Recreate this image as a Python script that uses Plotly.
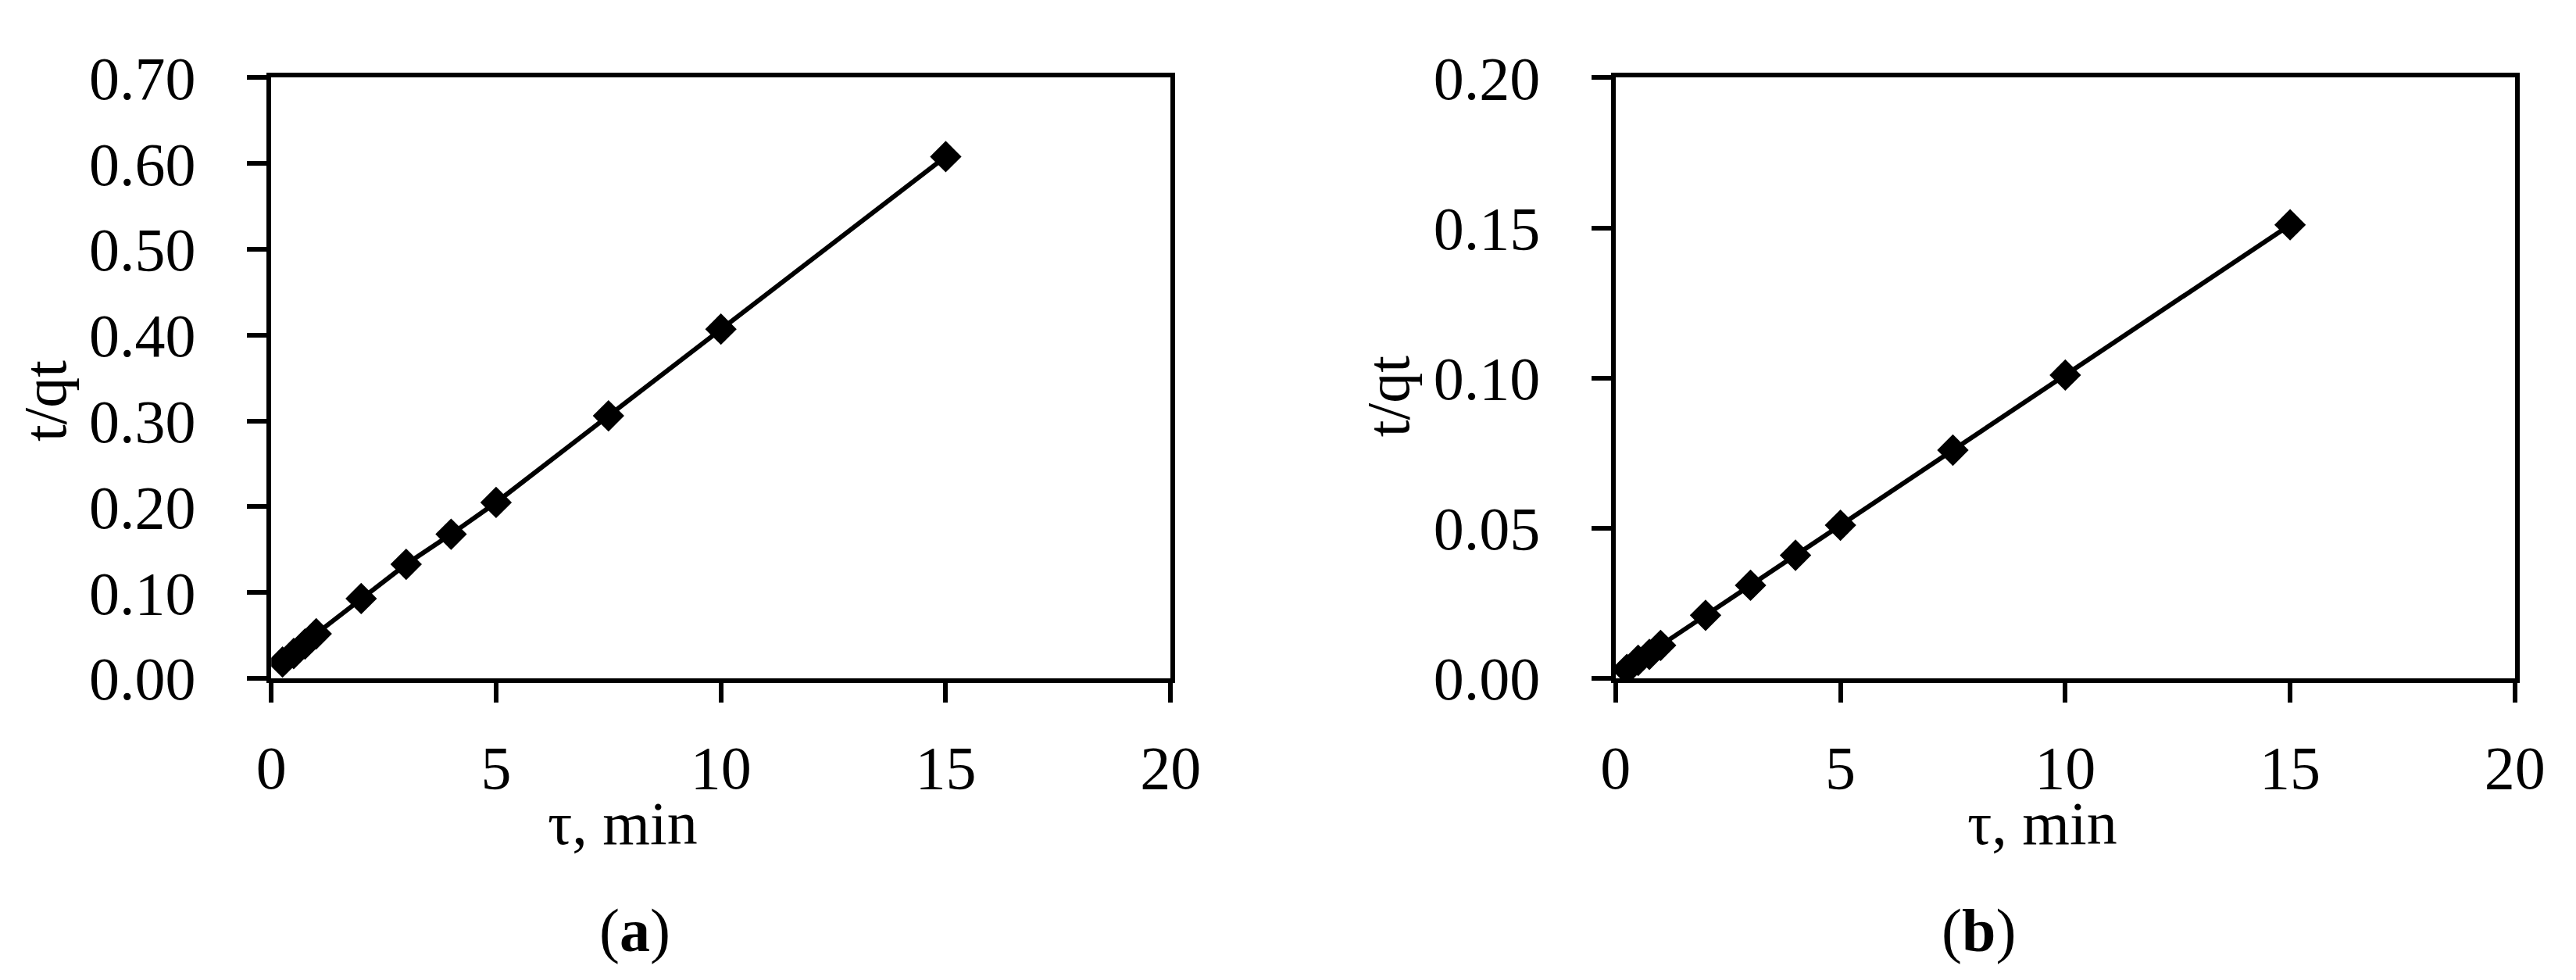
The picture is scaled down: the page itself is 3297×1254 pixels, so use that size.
import plotly.graph_objects as go

W, H = 3297, 1254

# Panel (a)
tau_a = [0.25, 0.5, 0.75, 1.0, 2.0, 3.0, 4.0, 5.0, 7.5, 10.0, 15.0]
tq_a = [0.019, 0.029, 0.040, 0.052, 0.093, 0.133, 0.168, 0.205, 0.306, 0.407, 0.608]

# Panel (b)
tau_b = [0.25, 0.5, 0.75, 1.0, 2.0, 3.0, 4.0, 5.0, 7.5, 10.0, 15.0]
tq_b = [0.003, 0.006, 0.008, 0.011, 0.021, 0.031, 0.041, 0.051, 0.076, 0.101, 0.151]

x_title = "τ, min"
y_title = "t/qt"
panel_labels = ["(<b>a</b>)", "(<b>b</b>)"]

FONT = "Liberation Serif"
FS = 78

def px_x(p):
    return p / W

def px_y(p):
    return 1 - p / H

fig = go.Figure()
fig.add_trace(go.Scatter(x=tau_a, y=tq_a, mode="lines+markers", xaxis="x", yaxis="y",
                         line=dict(color="black", width=6),
                         marker=dict(symbol="diamond", size=31, color="black")))
fig.add_trace(go.Scatter(x=tau_b, y=tq_b, mode="lines+markers", xaxis="x2", yaxis="y2",
                         line=dict(color="black", width=6),
                         marker=dict(symbol="diamond", size=31, color="black")))

ax_common = dict(showline=True, linecolor="black", linewidth=6, mirror=True,
                 ticks="outside", ticklen=25, tickwidth=6, tickcolor="black",
                 showgrid=False, zeroline=False,
                 tickfont=dict(family=FONT, size=FS, color="black"))

ydom = [px_y(878), px_y(52)]
fig.update_layout(
    width=W, height=H, margin=dict(l=0, r=0, t=0, b=0),
    paper_bgcolor="white", plot_bgcolor="white", showlegend=False,
    font=dict(family=FONT, size=FS, color="black"),
    xaxis=dict(domain=[px_x(325), px_x(1497)], range=[0, 20], dtick=5, anchor="y",
               ticklabelstandoff=16, **ax_common),
    yaxis=dict(domain=ydom, range=[0, 0.70], dtick=0.1, tickformat=".2f", anchor="x",
               ticklabelstandoff=50, **ax_common),
    xaxis2=dict(domain=[px_x(2077), px_x(3249)], range=[0, 20], dtick=5, anchor="y2",
                ticklabelstandoff=16, **ax_common),
    yaxis2=dict(domain=ydom, range=[0, 0.20], dtick=0.05, tickformat=".2f", anchor="x2",
                ticklabelstandoff=50, **ax_common),
)

ann = []
for cx, cy, txt, ang in [
    (783, 1077, x_title, 0), (2633, 1077, x_title, 0),
    (799, 1224, panel_labels[0], 0), (2550, 1224, panel_labels[1], 0),
    (30, 496, y_title, -90), (1780, 490, y_title, -90),
]:
    ann.append(dict(x=px_x(cx), y=px_y(cy), xref="paper", yref="paper", text=txt,
                    showarrow=False, textangle=ang, xanchor="center", yanchor="middle",
                    font=dict(family=FONT, size=FS, color="black")))
fig.update_layout(annotations=ann)

fig.write_html("out.html")
